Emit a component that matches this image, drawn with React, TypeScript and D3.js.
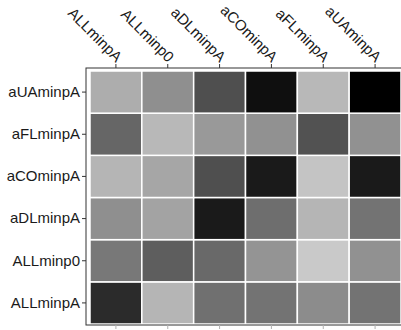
import React, { useEffect, useRef } from 'react';
import * as d3 from 'd3';

// column and row categories (rows listed bottom to top)
const cols = ['ALLminpA', 'ALLminp0', 'aDLminpA', 'aCOminpA', 'aFLminpA', 'aUAminpA'];
const rows = ['ALLminpA', 'ALLminp0', 'aDLminpA', 'aCOminpA', 'aFLminpA', 'aUAminpA'];

// grey level of each cell (0 = black, 1 = white), one array per row, in cols order
const rowALLminpA = [0.17, 0.71, 0.44, 0.45, 0.55, 0.45];
const rowALLminp0 = [0.47, 0.37, 0.41, 0.58, 0.79, 0.57];
const rowaDLminpA = [0.56, 0.64, 0.1, 0.43, 0.71, 0.45];
const rowaCOminpA = [0.71, 0.65, 0.31, 0.1, 0.77, 0.1];
const rowaFLminpA = [0.4, 0.72, 0.6, 0.57, 0.32, 0.57];
const rowaUAminpA = [0.68, 0.56, 0.31, 0.06, 0.72, 0.0];

const values = [rowALLminpA, rowALLminp0, rowaDLminpA, rowaCOminpA, rowaFLminpA, rowaUAminpA];

const App = () => {
  const ref = useRef<SVGSVGElement | null>(null);

  useEffect(() => {
    if (!ref.current) return;
    const svg = d3.select(ref.current);
    svg.selectAll('*').remove();

    const width = 401, height = 330;
    const panel = { left: 86, top: 68, right: 408, bottom: 325 };

    const x = d3.scaleBand().domain(cols).range([90, 401]).padding(0);
    const y = d3.scaleBand().domain(rows).range([324, 71]).padding(0);
    const grey = d3.scaleLinear<string>().domain([0, 1]).range(['#000000', '#ffffff']);

    svg.attr('width', width).attr('height', height);

    svg.append('rect')
      .attr('width', width).attr('height', height)
      .attr('fill', '#ffffff');

    const cells = rows.flatMap((r, i) => cols.map((c, j) => ({ r, c, v: values[i][j] })));

    svg.append('g')
      .selectAll('rect')
      .data(cells)
      .join('rect')
      .attr('x', d => x(d.c)!)
      .attr('y', d => y(d.r)!)
      .attr('width', x.bandwidth())
      .attr('height', y.bandwidth())
      .attr('fill', d => grey(d.v))
      .attr('stroke', '#ffffff')
      .attr('stroke-width', 1.5);

    // panel border
    svg.append('rect')
      .attr('x', panel.left).attr('y', panel.top)
      .attr('width', panel.right - panel.left)
      .attr('height', panel.bottom - panel.top)
      .attr('fill', 'none')
      .attr('stroke', '#333333')
      .attr('stroke-width', 1);

    const font = 'Liberation Sans, Arial, Helvetica, sans-serif';

    // top axis
    const top = svg.append('g')
      .attr('transform', `translate(0,${panel.top})`)
      .call(d3.axisTop(x).tickSize(4).tickSizeOuter(0).tickPadding(3));
    top.select('.domain').remove();
    top.selectAll('.tick line').attr('stroke', '#333333');
    top.selectAll<SVGTextElement, string>('.tick text')
      .attr('font-family', font)
      .attr('font-size', 15)
      .attr('fill', '#1a1a1a')
      .attr('text-anchor', 'end')
      .attr('dy', '0')
      .attr('transform', 'translate(-5,0) rotate(45)');

    // bottom axis ticks (no labels)
    const bottom = svg.append('g')
      .attr('transform', `translate(0,${panel.bottom})`)
      .call(d3.axisBottom(x).tickSize(4).tickSizeOuter(0).tickFormat(() => ''));
    bottom.select('.domain').remove();
    bottom.selectAll('.tick line').attr('stroke', '#b0b0b0');

    // left axis
    const left = svg.append('g')
      .attr('transform', `translate(${panel.left},0)`)
      .call(d3.axisLeft(y).tickSize(4).tickSizeOuter(0).tickPadding(2));
    left.select('.domain').remove();
    left.selectAll('.tick line').attr('stroke', '#333333');
    left.selectAll('.tick text')
      .attr('font-family', font)
      .attr('font-size', 15)
      .attr('fill', '#1a1a1a');
  }, []);

  return (
    <div>
      <style>{'body{margin:0}'}</style>
      <svg ref={ref}></svg>
    </div>
  );
};

export default App;
